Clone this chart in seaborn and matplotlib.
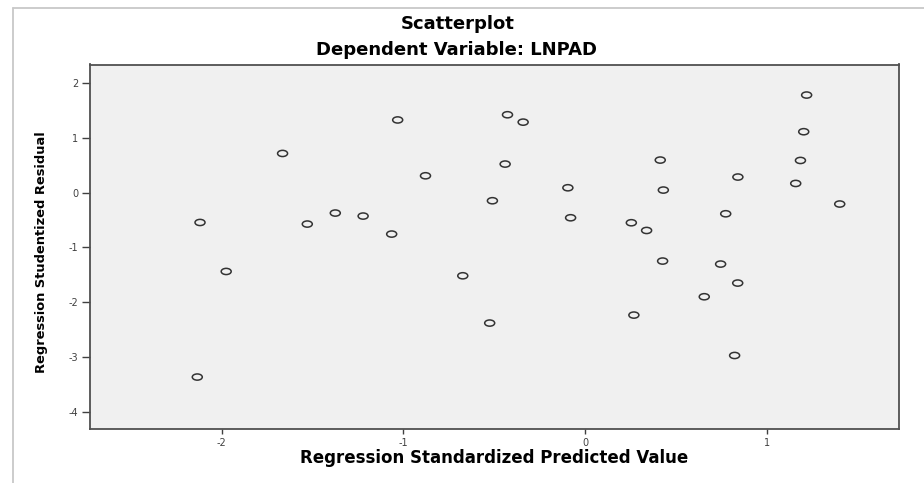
import matplotlib
matplotlib.use("Agg")
import matplotlib.pyplot as plt
import seaborn as sns
import pandas as pd
from matplotlib.path import Path
from matplotlib.transforms import Affine2D
from matplotlib.lines import Line2D

# --- data ---
predicted = [-1.032, -0.428, -0.342, -1.665, -0.441, -0.879, -0.511, -2.119,
             -1.529, -1.375, -1.222, -1.065,
             1.217, 1.201, 0.412, 1.183, 0.839, 1.157, -0.096, 0.429, 1.399,
             0.772, -0.081, 0.253, 0.337,
             -1.975, -0.674, -0.526, -2.134,
             0.425, 0.744, 0.838, 0.654, 0.267, 0.821]
residual = [1.33, 1.425, 1.29, 0.718, 0.524, 0.31, -0.146, -0.543,
            -0.572, -0.371, -0.426, -0.755,
            1.785, 1.115, 0.597, 0.59, 0.287, 0.17, 0.091, 0.049, -0.206,
            -0.384, -0.457, -0.548, -0.689,
            -1.438, -1.517, -2.381, -3.367,
            -1.248, -1.303, -1.65, -1.90, -2.235, -2.973]
x_ticks = [-2, -1, 0, 1]
y_ticks = [-4, -3, -2, -1, 0, 1, 2]
title = "Scatterplot"
subtitle = "Dependent Variable: LNPAD"
x_label = "Regression Standardized Predicted Value"
y_label = "Regression Studentized Residual"

df = pd.DataFrame({"pred": predicted, "resid": residual})

sns.set_style("white")
plt.rcParams["font.family"] = ["DejaVu Sans"]

W, H = 924, 483
fig = plt.figure(figsize=(W / 100, H / 100), dpi=100)
fig.patch.set_facecolor("white")

left, right, top, bottom = 90, 899, 64.5, 428.5
ax = fig.add_axes([left / W, 1 - bottom / H, (right - left) / W, (bottom - top) / H])
ax.set_facecolor("#F0F0F0")

ellipse = Path.unit_circle().transformed(Affine2D().scale(1, 0.62))
sns.scatterplot(data=df, x="pred", y="resid", ax=ax, marker=ellipse, s=52,
                facecolor="none", edgecolor="#333333", linewidth=1.1, zorder=3)

ax.set_xlim(-2.724, 1.725)
ax.set_ylim(-4.307, 2.343)
ax.set_xticks(x_ticks)
ax.set_yticks(y_ticks)
ax.set_xticklabels([str(t) for t in x_ticks])
ax.set_yticklabels([str(t) for t in y_ticks])

for sp in ax.spines.values():
    sp.set_visible(True)
    sp.set_color("#505050")
    sp.set_linewidth(1.3)

ax.tick_params(axis="x", bottom=True, direction="out", length=3.6, width=1.0,
               color="#404040", labelsize=7, labelcolor="#404040", pad=3.2)
ax.tick_params(axis="y", left=True, direction="out", length=5.8, width=1.0,
               color="#404040", labelsize=7, labelcolor="#404040", pad=2.7)

ax.set_xlabel(x_label, fontsize=12, fontweight="bold", color="black")
ax.xaxis.set_label_coords(0.5, -(449 - bottom) / (bottom - top))
ax.xaxis.label.set_va("top")
ax.set_ylabel(y_label, fontsize=9.4, fontweight="bold", color="black")
ax.yaxis.set_label_coords(-(left - 48) / (right - left), 0.485)

fig.text(458 / W, 1 - 29.3 / H, title, ha="center", va="baseline",
         fontsize=13, fontweight="bold", color="black")
fig.text(457 / W, 1 - 55 / H, subtitle, ha="center", va="baseline",
         fontsize=13, fontweight="bold", color="black")

# light grey frame of the output viewer (top and left edges)
fig.add_artist(Line2D([12.5 / W, 12.5 / W], [0, 1 - 8 / H], transform=fig.transFigure,
                      color="#C8C8C8", linewidth=1.3))
fig.add_artist(Line2D([12.5 / W, 1], [1 - 8 / H, 1 - 8 / H], transform=fig.transFigure,
                      color="#C8C8C8", linewidth=1.3))

fig.savefig("out.png", dpi=100)
